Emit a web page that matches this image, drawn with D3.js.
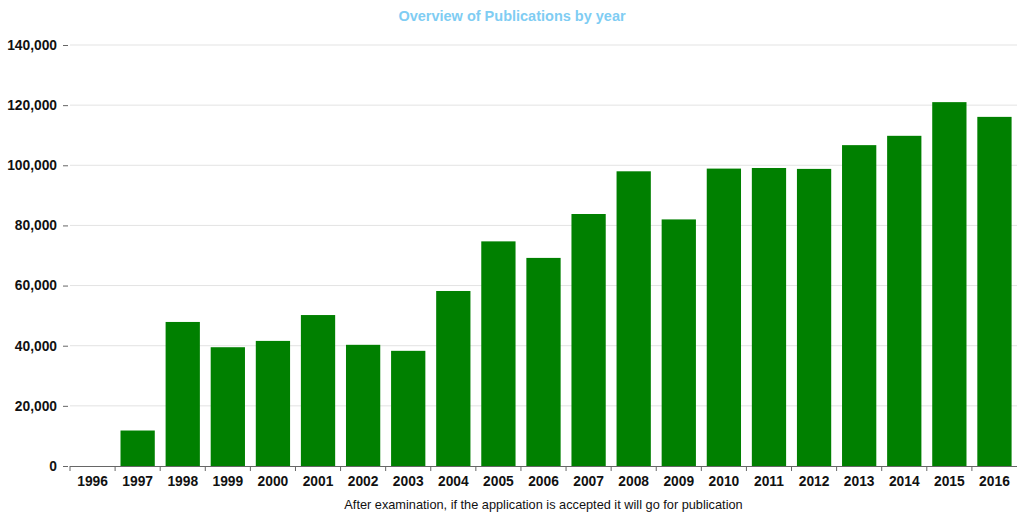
<!DOCTYPE html>
<html><head><meta charset="utf-8">
<script src="https://cdn.jsdelivr.net/npm/d3@7/dist/d3.min.js"></script>
<style>body{margin:0;background:#fff;font-family:"Liberation Sans",Arial,sans-serif}</style>
</head><body><svg id="c" width="1024" height="518"></svg>
<script>
const years = ["1996","1997","1998","1999","2000","2001","2002","2003","2004","2005","2006","2007","2008","2009","2010","2011","2012","2013","2014","2015","2016"];
const publications = [0,11800,47900,39500,41600,50200,40300,38300,58200,74700,69200,83800,98000,82000,98900,99100,98800,106700,109800,121000,116100];
const yTicks = [0,20000,40000,60000,80000,100000,120000,140000];
const titleText = "Overview of Publications by year";
const captionText = "After examination, if the application is accepted it will go for publication";

const svg = d3.select("#c");
const m = {l:70, r:1017, t:45, b:466};
const x = d3.scaleBand().domain(years).range([m.l, m.r]).paddingInner(0.24).paddingOuter(0.12);
const y = d3.scaleLinear().domain([0,140000]).range([m.b, m.t]);

// grid
svg.append("g").selectAll("line").data(yTicks.slice(1)).join("line")
  .attr("x1", m.l).attr("x2", m.r).attr("y1", d=>y(d)).attr("y2", d=>y(d))
  .attr("stroke", "#e3e3e3").attr("stroke-width", 1);

// bars
svg.append("g").selectAll("rect").data(years).join("rect")
  .attr("x", d=>x(d)).attr("width", x.bandwidth())
  .attr("y", (d,i)=>y(publications[i])).attr("height", (d,i)=>y(0)-y(publications[i]))
  .attr("fill", "#008000");

// y axis
const ya = svg.append("g").attr("transform", `translate(${m.l-2},0)`)
  .call(d3.axisLeft(y).tickValues(yTicks).tickFormat(d3.format(",")).tickSize(5).tickPadding(6));
ya.select(".domain").remove();
ya.selectAll("line").attr("stroke", "#666");
ya.selectAll("text").attr("font-size", 13.8).attr("font-weight", "bold").attr("fill", "#111")
  .attr("font-family", "Liberation Sans, Arial, sans-serif");

// x axis
const xa = svg.append("g").attr("transform", `translate(0,${m.b})`)
  .call(d3.axisBottom(x).tickSize(0).tickPadding(10));
xa.select(".domain").attr("stroke", "#666").attr("d", `M${m.l},0.5H${m.r}`);
xa.selectAll("text").attr("font-size", 13.8).attr("font-weight", "bold").attr("fill", "#111")
  .attr("font-family", "Liberation Sans, Arial, sans-serif");
// boundary ticks
const bounds = years.map((d,i)=> m.l + i*(m.r-m.l)/years.length);
svg.append("g").selectAll("line").data(bounds).join("line")
  .attr("x1", d=>d).attr("x2", d=>d).attr("y1", m.b).attr("y2", m.b+5)
  .attr("stroke", "#666");

// title
svg.append("text").attr("x", 512).attr("y", 21).attr("text-anchor", "middle")
  .attr("font-size", 14.5).attr("font-weight", "bold").attr("fill", "#7fcdf3").text(titleText);
// caption
svg.append("text").attr("x", (m.l+m.r)/2).attr("y", 509).attr("text-anchor", "middle")
  .attr("font-size", 12.75).attr("fill", "#111").text(captionText);
</script></body></html>
